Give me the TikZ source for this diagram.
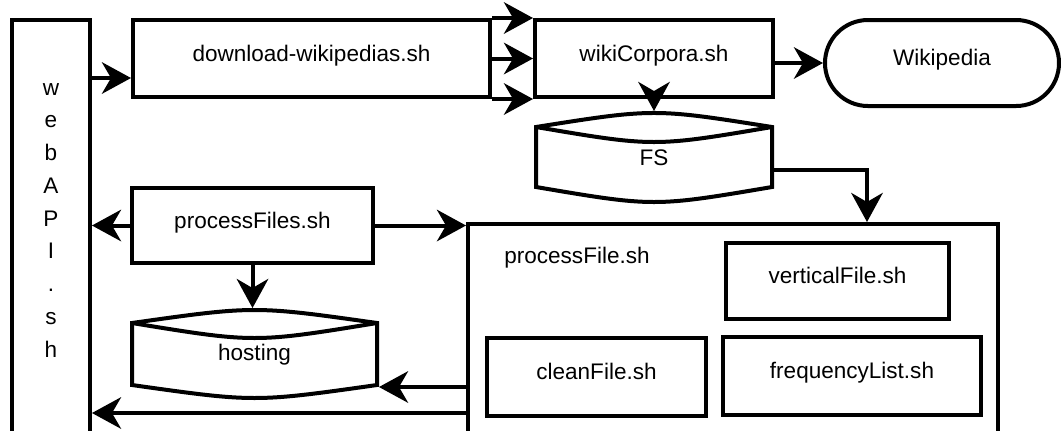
\documentclass[tikz,border=0pt]{standalone}
\usepackage{fontspec}
\setmainfont{Liberation Sans}
\usetikzlibrary{arrows.meta}
\newcommand\mytextsize{\fontsize{16.9pt}{20pt}\selectfont}
\begin{document}
\begin{tikzpicture}[x=0.75pt,y=-0.75pt,
  line width=3pt,
  box/.style={draw, rectangle, inner sep=0pt, line width=3pt,
    text height=6pt, text depth=2.25pt, font=\mytextsize},
  ghost/.style={rectangle, inner sep=0pt, font=\mytextsize},
  plain/.style={inner sep=0pt, font=\mytextsize},
  arr/.style={line width=3pt, -{Stealth[length=22pt,width=24pt,inset=7pt,line width=0pt]}},
]
\useasboundingbox (0,0) rectangle (1061,430);
\clip (0,0) rectangle (1061,430);

% boxes
\node[box, minimum width=58.5pt, minimum height=337.5pt] (webAPI) at (51,245) {};
\foreach \c [count=\i] in {w,e,b,A,P,I,.,s,h}
  \node[plain, anchor=base] (ltr\i) at (51,{95+32.75*(\i-1)}) {\c};

\node[box, minimum width=267.75pt, minimum height=57.75pt] (download) at (311.5,58.5) {download-wikipedias.sh};
\node[box, minimum width=178.5pt, minimum height=57.75pt] (wiki) at (654,58.5) {wikiCorpora.sh};
\node[box, rounded corners=32.2pt, minimum width=175.5pt, minimum height=64.5pt] (wp) at (942,63) {Wikipedia};

\node[box, minimum width=180.75pt, minimum height=56.25pt] (pfs) at (252.5,225.5) {processFiles.sh};

\node[box, minimum width=397.5pt, minimum height=184.5pt] (pf) at (733,347) {};
\node[plain, anchor=base] (pflabel) at (577,263) {processFile.sh};
\node[box, minimum width=167.25pt, minimum height=57pt] (vf) at (837.5,281) {verticalFile.sh};
\node[box, minimum width=164.25pt, minimum height=58.5pt] (cf) at (596.5,377) {cleanFile.sh};
\node[box, minimum width=193.5pt, minimum height=58.5pt] (fl) at (852,376) {frequencyList.sh};

% storage shapes
\node[ghost, minimum width=177pt, minimum height=66.75pt, text height=12pt, text depth=0.75pt] (fs) at (654,157.5) {FS};
\draw (536,127) .. controls (654,108.3) .. (772,127) -- (772,187)
      .. controls (654,207) .. (536,187) -- cycle;
\draw (536,127) .. controls (654,147) .. (772,127);

\node[ghost, minimum width=183.75pt, minimum height=66pt, text height=10pt, text depth=1pt] (hosting) at (254.5,354) {hosting};
\draw (132,323) .. controls (254.5,305.67) .. (377,323) -- (377,385)
      .. controls (254.5,402.33) .. (132,385) -- cycle;
\draw (132,323) .. controls (254.5,343) .. (377,323);

% helper coordinates
\coordinate (dlin) at ([yshift=-14.625pt]download.west);
\coordinate (fsout) at ([yshift=-9pt]fs.east);
\coordinate (pfin) at ([xshift=100.5pt]pf.north);
\coordinate (hsin) at ([yshift=9.75pt]hosting.south east);
\coordinate (wbin) at ([yshift=-126pt]webAPI.east);

% connectors
\draw[arr] (webAPI.east |- dlin) -- (dlin);
\draw[arr] (download.north east) -- (wiki.north west);
\draw[arr] (download.east) -- (wiki.west);
\draw[arr] (download.south east) -- (wiki.south west);
\draw[arr] (wiki.east |- wp.west) -- (wp.west);
\draw[arr] (wiki.south) -- (fs.north);
\draw[arr] (fsout) -| (pfin);
\draw[arr] (pfs.west) -- (pfs.west -| webAPI.east);
\draw[arr] (pfs.east) -- (pfs.east -| pf.west);
\draw[arr] (pfs.south) -- (pfs.south |- hosting.north);
\draw[arr] (hsin -| pf.west) -- (hsin);
\draw[arr] (wbin -| pf.west) -- (wbin);
\end{tikzpicture}
\end{document}
